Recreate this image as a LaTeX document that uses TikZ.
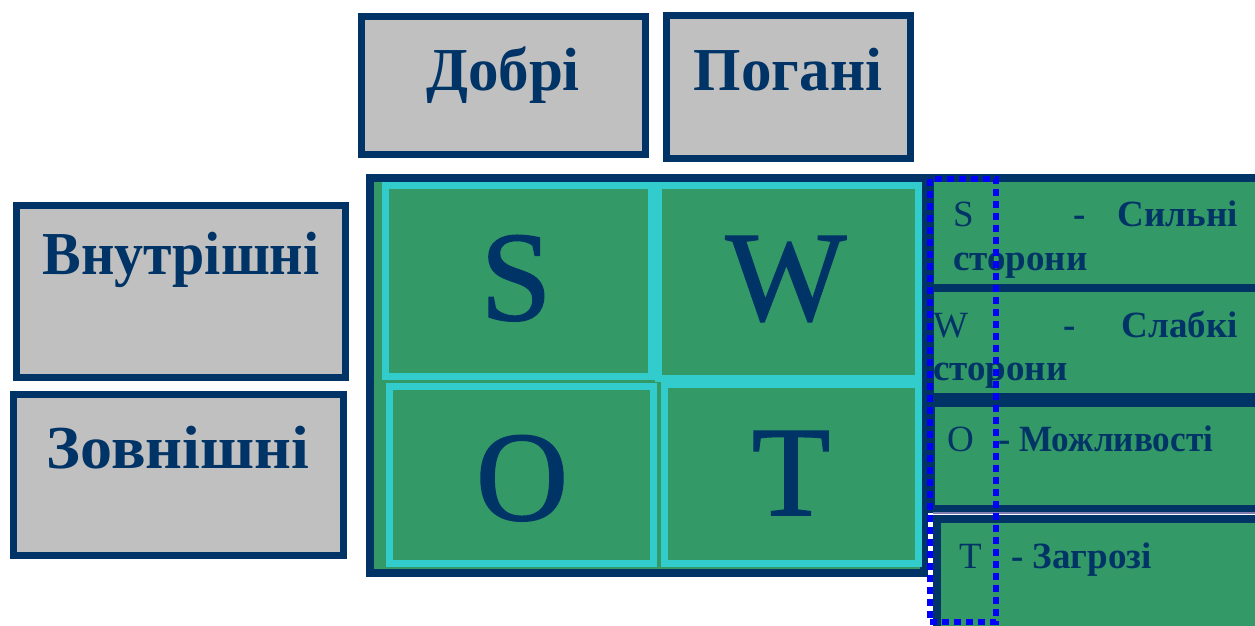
\documentclass[tikz,border=0pt]{standalone}
\usepackage{fontspec}
\setmainfont{Liberation Serif}
\newfontfamily\heavyserif[FakeBold=1.2]{Liberation Serif}
\definecolor{navy}{HTML}{003366}
\definecolor{greyfill}{HTML}{C0C0C0}
\definecolor{swotgreen}{HTML}{339966}
\definecolor{swotcyan}{HTML}{33CCCC}
\definecolor{pureblue}{HTML}{0000FF}
\definecolor{lav}{HTML}{7F7FB2}
\tikzset{
  greybox/.style={draw=navy, fill=greyfill, line width=7pt},
  bigframe/.style={draw=navy, fill=swotgreen, line width=8pt},
  cell/.style={draw=swotcyan, fill=swotgreen, line width=7pt},
  band/.style={draw=navy, fill=swotgreen, line width=8pt},
  lbl/.style={text=navy, font=\bfseries\fontsize{61}{70}\selectfont, inner sep=0pt, anchor=base},
  big/.style={text=navy, font=\heavyserif\fontsize{128}{140}\selectfont, inner sep=0pt, anchor=base},
  bl/.style={text=navy, font=\fontsize{37}{44}\selectfont, inner sep=0pt, anchor=base west},
  bw/.style={text=navy, font=\bfseries\fontsize{37}{44}\selectfont, inner sep=0pt, anchor=base west},
  bwe/.style={text=navy, font=\bfseries\fontsize{37}{44}\selectfont, inner sep=0pt, anchor=base east},
  dotframe/.style={draw=pureblue, line width=6pt, dash pattern=on 7pt off 5pt}
}
\begin{document}
\begin{tikzpicture}[x=1pt,y=-1pt]
\useasboundingbox (0,0) rectangle (1255,626);
\clip (0,0) rectangle (1255,626);
% grey header boxes
\draw[greybox] (361.5,16.5) rectangle (645.5,154.5);
\draw[greybox] (666.5,15.5) rectangle (910.5,158.5);
\draw[greybox] (16.5,205.5) rectangle (345.5,377.5);
\draw[greybox] (13.5,394.5) rectangle (343.5,555.5);
\node[lbl] (good) at (503,90) {Добрі};
\node[lbl] (bad) at (788,90) {Погані};
\node[lbl, xscale=0.95] (inner) at (181,274) {Внутрішні};
\node[lbl, xscale=1.05] (outer) at (178,468) {Зовнішні};
% SWOT grid
\draw[bigframe] (370,178) rectangle (924,573);
\draw[cell] (385.5,185.5) rectangle (651.5,376.5);
\draw[cell] (658.5,185.5) rectangle (918.5,378.5);
\draw[cell] (389.5,386.5) rectangle (653.5,563.5);
\draw[cell] (664.5,384.5) rectangle (918.5,563.5);
\node[big] (S) at (516,320) {S};
\node[big] (W) at (786,320) {W};
\node[big] (O) at (522,520) {O};
\node[big] (T) at (791,515) {T};
% right bands
\draw[band] (930,178) rectangle (1262,288);
\draw[band] (930,288) rectangle (1262,397);
\draw[band] (930.5,403) rectangle (1262,508.5);
\draw[lav, line width=2pt] (933,513) -- (1262,513);
\draw[band] (937,519) rectangle (1262,632);
\node[bl] (s1) at (953,226) {S};
\node[bw] (d1) at (1073,226) {-};
\node[bwe] (w1) at (1238,226) {Сильні};
\node[bw] (w1b) at (953,270) {сторони};
\node[bl] (s2) at (933,337) {W};
\node[bw] (d2) at (1063,337) {-};
\node[bwe] (w2) at (1238,337) {Слабкі};
\node[bw] (w2b) at (933,380) {сторони};
\node[bl] (s3) at (947,451) {O};
\node[bw] (d3) at (998,451) {-};
\node[bw, xscale=0.95] (w3) at (1019,451) {Можливості};
\node[bl] (s4) at (959,568) {T};
\node[bw] (w4) at (1011,568) {- Загрозі};
% dotted frame
\draw[dotframe] (929.5,178.5) rectangle (996,622);
\end{tikzpicture}
\end{document}
